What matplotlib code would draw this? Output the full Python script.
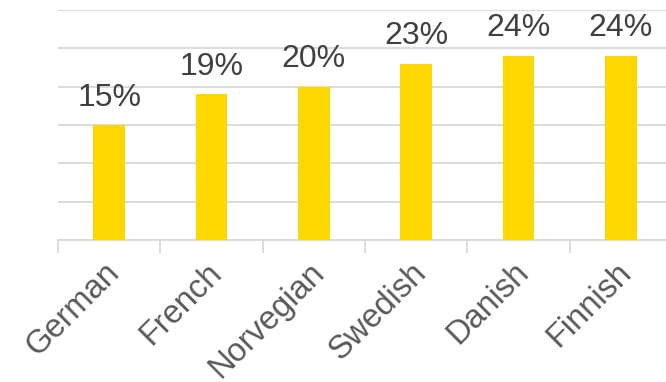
import matplotlib.pyplot as plt
import matplotlib.transforms as mtransforms
from matplotlib.ticker import MultipleLocator, FixedLocator

plt.rcParams['font.family'] = ['Liberation Sans', 'DejaVu Sans']

languages = ["German", "French", "Norvegian", "Swedish", "Danish", "Finnish"]
shares = [15, 19, 20, 23, 24, 24]

bar_color = "#FFD700"
grid_color = "#D9D9D9"

fig = plt.figure(figsize=(6.66, 3.82), dpi=100)
# axes spans from the left margin past the right edge of the canvas
ax = fig.add_axes([58 / 666, 1 - 240 / 382, 614 / 666, 230 / 382])

x = list(range(len(languages)))
ax.bar(x, shares, width=0.31, color=bar_color, zorder=3)

ax.set_xlim(-0.5, len(languages) - 0.5)
ax.set_ylim(0, 30)
ax.yaxis.set_major_locator(MultipleLocator(5))
ax.grid(axis="y", color=grid_color, linewidth=1.3, zorder=0)
ax.tick_params(axis="y", left=False, labelleft=False)

for s in ["top", "right", "left"]:
    ax.spines[s].set_visible(False)
ax.spines["bottom"].set_color(grid_color)
ax.spines["bottom"].set_linewidth(1.3)

# category separators as ticks, labels centered under bars
ax.xaxis.set_major_locator(FixedLocator([i - 0.5 for i in x]))
ax.tick_params(axis="x", which="major", length=9, color=grid_color, width=1.3,
               labelbottom=False)
ax.set_xticks(x, minor=True)
ax.set_xticklabels(languages, minor=True, rotation=45, ha="right", va="center",
                   rotation_mode="anchor", fontsize=23.5, color="#595959")
ax.tick_params(axis="x", which="minor", length=0, pad=20)
shift = mtransforms.ScaledTranslation(4 / 72, 0, fig.dpi_scale_trans)
for lbl in ax.get_xticklabels(minor=True):
    lbl.set_transform(lbl.get_transform() + shift)

for xi, v in zip(x, shares):
    ax.annotate(f"{v}%", (xi, v), xytext=(0, 9), textcoords="offset points",
                ha="center", va="bottom", fontsize=23, color="#404040")

fig.savefig("out.png", dpi=100, facecolor="white")
